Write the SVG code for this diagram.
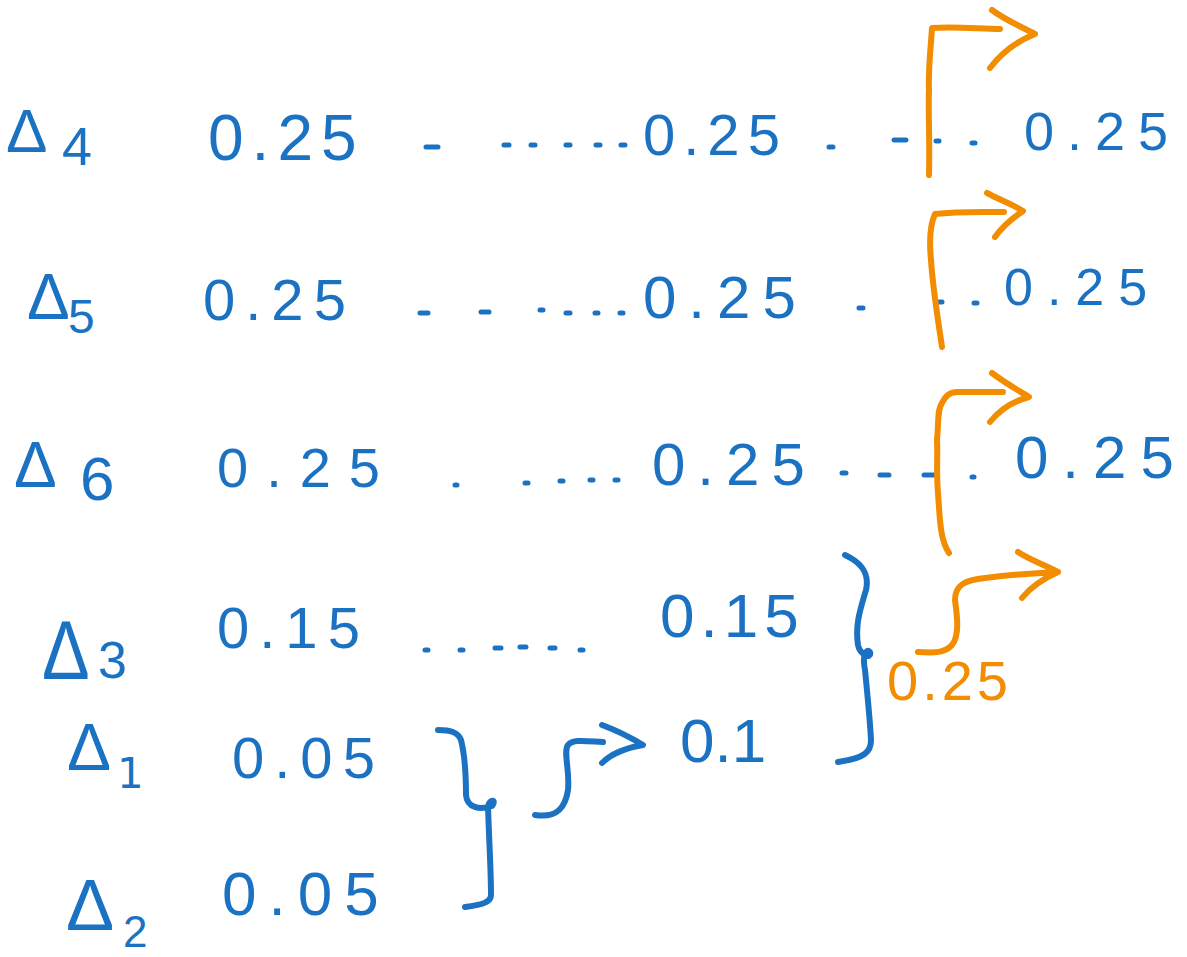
<svg xmlns="http://www.w3.org/2000/svg" width="1187" height="957" viewBox="0 0 1187 957">
<style>
.b{fill:#1c72c2;font-family:"Liberation Sans",Arial,sans-serif}
.o{fill:#f28c00;font-family:"Liberation Sans",Arial,sans-serif}
.ds{stroke:#1c72c2;stroke-width:5;stroke-linecap:round;fill:none}
.pb{stroke:#1c72c2;stroke-width:6;stroke-linecap:round;stroke-linejoin:round;fill:none}
.po{stroke:#f28c00;stroke-width:6;stroke-linecap:round;stroke-linejoin:round;fill:none}
</style>
<rect width="1187" height="957" fill="#fff"/>
<g id="labels">
<g id="d4"><text class="b" x="6" y="152" font-size="62">Δ</text><text class="b" x="62" y="165" font-size="54">4</text></g>
<g id="d5"><text class="b" x="27" y="319" font-size="64">Δ</text><text class="b" x="68" y="333" font-size="48">5</text></g>
<g id="d6"><text class="b" x="14" y="487" font-size="64">Δ</text><text class="b" x="80" y="500" font-size="62">6</text></g>
<g id="d3"><text class="b" x="42" y="679" font-size="84" transform="translate(42 679) scale(0.85 1) translate(-42 -679)">Δ</text><text class="b" x="98" y="678" font-size="52">3</text></g>
<g id="d1"><text class="b" x="67" y="770" font-size="66">Δ</text><text x="117" y="788" font-size="42" fill="#1c72c2" font-family="DejaVu Sans,sans-serif">1</text></g>
<g id="d2"><text class="b" x="66" y="930" font-size="72">Δ</text><text class="b" x="123" y="947" font-size="44">2</text></g>
</g>
<g id="values">
<g id="r1"><text class="b" x="208" y="160" font-size="64" letter-spacing="8">0.25</text><text class="b" x="643" y="155" font-size="58" letter-spacing="8">0.25</text><text class="b" x="1024" y="150" font-size="54" letter-spacing="13">0.25</text></g>
<g id="r2"><text class="b" x="203" y="320" font-size="58" letter-spacing="10">0.25</text><text class="b" x="643" y="318" font-size="60" letter-spacing="12">0.25</text><text class="b" x="1004" y="305" font-size="52" letter-spacing="14">0.25</text></g>
<g id="r3"><text class="b" x="217" y="487" font-size="56" letter-spacing="18">0.25</text><text class="b" x="652" y="485" font-size="60" letter-spacing="12">0.25</text><text class="b" x="1015" y="478" font-size="60" letter-spacing="14">0.25</text></g>
<g id="r4"><text class="b" x="217" y="648" font-size="58" letter-spacing="10">0.15</text><text class="b" x="660" y="637" font-size="62" letter-spacing="6">0.15</text></g>
<g id="r5"><text class="b" x="232" y="778" font-size="58" letter-spacing="10">0.05</text><text class="b" x="680" y="762" font-size="62">0.1</text></g>
<g id="r6"><text class="b" x="222" y="915" font-size="62" letter-spacing="12">0.05</text></g>
<g id="sum"><text class="o" x="887" y="700" font-size="56" letter-spacing="4">0.25</text></g>
</g>
<g id="dots">
<path class="ds" d="M426 147h12M504 145h5M531 145h4M566 145h4M596 145h4M621 145h4M829 147h4M894 140h12M936 141h3M972 143h3"/>
<path class="ds" d="M420 313h8M481 312h8M540 310h3M566 313h4M595 313h3M620 313h3M859 308h4M939 302h3M974 303h3"/>
<path class="ds" d="M455 485h2M525 483h3M560 481h3M590 480h3M615 480h3M842 473h4M880 475h9M924 475h10M972 477h2"/>
<path class="ds" d="M425 650h3M460 650h3M495 648h6M520 647h6M550 648h5M580 650h3"/>
</g>
<g id="connectors">
<path class="po" d="M929 175C930 140 928 110 929 90C928 70 931 45 932 28C955 26 980 29 1000 29M992 10C1005 20 1020 26 1035 34C1015 42 1000 55 990 68"/>
<path class="po" d="M942 347C938 320 933 290 931 260C929 240 930 225 935 214C960 211 985 212 1004 212M987 193C1000 200 1012 204 1023 211C1010 220 1000 230 995 237"/>
<path class="po" d="M949 553C940 540 940 520 938 493C936 470 938 455 937 440C939 420 937 410 942 403C946 395 950 392 958 392L1003 392M992 373C1005 383 1018 390 1029 397C1010 402 998 412 990 422"/>
<path class="po" d="M918 652C935 653 945 653 952 645C960 635 957 615 955 600C955 585 965 580 985 578C1010 575 1035 573 1058 572M1018 552C1030 560 1045 565 1058 572C1040 580 1030 588 1022 598"/>
<path class="pb" d="M845 555C860 562 870 572 866 590C860 610 855 625 858 645C860 655 872 660 870 652C866 648 862 655 865 670C868 700 870 720 871 740C871 752 865 758 838 762"/>
<path class="pb" d="M438 730C450 730 458 732 461 740C466 760 466 785 466 795C467 808 480 810 492 806C497 800 490 798 488 806C489 840 491 870 491 895C491 903 480 905 465 907"/>
<path class="pb" d="M535 815C555 818 565 810 568 790C570 770 563 752 568 745C573 739 585 741 603 742M602 725C618 731 630 737 643 745C625 748 610 755 602 763"/>
</g>
</svg>
